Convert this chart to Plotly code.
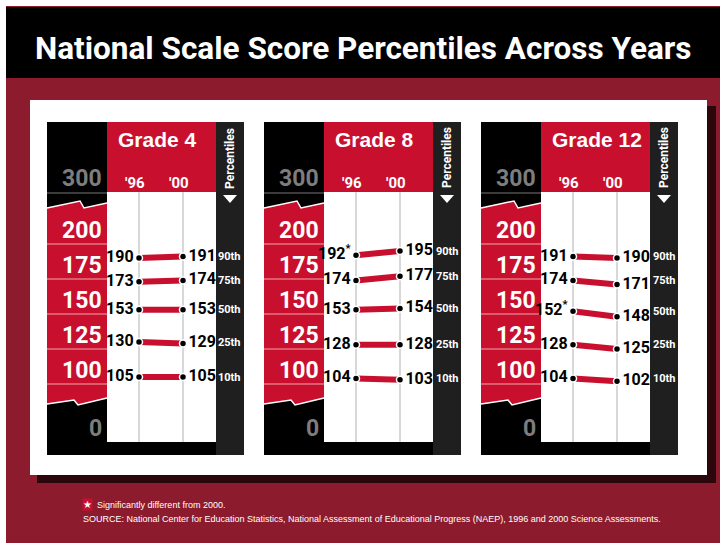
import plotly.graph_objects as go

grades = ["Grade 4", "Grade 8", "Grade 12"]
years = ["'96", "'00"]
percentiles = ["10th", "25th", "50th", "75th", "90th"]
scores_96 = [[105, 130, 153, 173, 190],
             [104, 128, 153, 174, 192],
             [104, 128, 152, 174, 191]]
scores_00 = [[105, 129, 153, 174, 191],
             [103, 128, 154, 177, 195],
             [102, 125, 148, 171, 190]]
signif_96 = [[0, 0, 0, 0, 0],
             [0, 0, 0, 0, 1],
             [0, 0, 1, 0, 0]]
scale_ticks = [100, 125, 150, 175, 200]
break_labels = ["300", "0"]

W, H = 720, 543
RED = "#c8102e"
COND = "Roboto, Liberation Sans, sans-serif"
PLAIN = "Liberation Sans, Arial, sans-serif"


def px(x):
    return x / W


def py(y):
    return 1 - y / H


def rect(x0, y0, x1, y1, color, layer="below"):
    return dict(type="rect", xref="paper", yref="paper", x0=px(x0), x1=px(x1),
                y0=py(y1), y1=py(y0), fillcolor=color, line=dict(width=0), layer=layer)


def path(points, fill=None, line_color=None, lw=0, close=True):
    d = "M " + " L ".join(f"{px(x):.5f},{py(y):.5f}" for x, y in points)
    if close:
        d += " Z"
    s = dict(type="path", xref="paper", yref="paper", path=d, layer="below",
             line=dict(width=lw, color=line_color or "rgba(0,0,0,0)"))
    if fill:
        s["fillcolor"] = fill
    return s


def note(text, x, y, size, color="white", family=COND, xref="paper", yref="paper",
         xanchor="center", yanchor="middle", weight="bold", **kw):
    return dict(text=text, x=x, y=y, xref=xref, yref=yref, xanchor=xanchor, yanchor=yanchor,
                showarrow=False, font=dict(family=family, size=size, color=color, weight=weight), **kw)


fig = go.Figure()
shapes = []
annotations = []

# page background
shapes.append(rect(6, 6, 720, 543, "#8c1c2d"))
shapes.append(rect(6, 7, 720, 78, "#000000"))
shapes.append(rect(37, 106, 716, 483, "#2b070c"))
shapes.append(rect(30, 100, 707, 475, "#ffffff"))

annotations.append(note("National Scale Score Percentiles Across Years", px(363), py(48), 31.5))

panel_left = [47, 264, 481]
PW = 197
TOP, HEAD_B, WHITE_B, BOT = 122, 192, 442, 455
X96, X00 = 92, 136   # pixel offsets of the year columns inside a panel

for k, L in enumerate(panel_left):
    n = "" if k == 0 else str(k + 1)
    xr = [-X96 / (X00 - X96), (PW - X96) / (X00 - X96)]
    fig.update_layout({
        f"xaxis{n}": dict(domain=[px(L), px(L + PW)], range=xr, visible=False, fixedrange=True,
                          anchor=f"y{n}"),
        f"yaxis{n}": dict(domain=[py(BOT), py(TOP)], range=[200 - (BOT - 244) / 1.4, 200 + (244 - TOP) / 1.4],
                          visible=False, fixedrange=True, anchor=f"x{n}"),
    })

    # panel blocks
    shapes.append(rect(L, TOP, L + PW, BOT, "#000000"))
    shapes.append(rect(L + 169, TOP, L + PW, BOT, "#1f1f1f"))
    shapes.append(rect(L + 60, TOP, L + 169, HEAD_B, RED))
    shapes.append(rect(L + 60, HEAD_B, L + 169, WHITE_B, "#ffffff"))
    shapes.append(dict(type="line", xref="paper", yref="paper", x0=px(L), x1=px(L + 60),
                       y0=py(193), y1=py(193), line=dict(color="#777777", width=1), layer="below"))

    # red scale band with break marks
    top_edge = [(L, 208), (L + 33, 201), (L + 37, 208), (L + 60, 203)]
    bot_edge = [(L + 60, 398), (L + 31, 405), (L + 27, 400), (L, 404)]
    shapes.append(path(top_edge + bot_edge, fill=RED))
    shapes.append(path(top_edge, line_color="white", lw=1.5, close=False))
    shapes.append(path(bot_edge, line_color="white", lw=1.5, close=False))
    for t in scale_ticks:
        shapes.append(dict(type="line", xref="paper", yref=f"y{n}", x0=px(L), x1=px(L + 60),
                           y0=t, y1=t, line=dict(color="rgba(255,215,215,0.75)", width=1), layer="below"))
        annotations.append(note(str(t), px(L + 57), t, 23, yref=f"y{n}", xanchor="right",
                                yanchor="bottom", yshift=-2))
    for lab, yy in zip(break_labels, [179, 428]):
        annotations.append(note(lab, px(L + 57), py(yy), 23, color="#7d7d7d", xanchor="right"))

    # year grid lines
    for i, yr in enumerate(years):
        shapes.append(dict(type="line", xref=f"x{n}", yref="paper", x0=i, x1=i,
                           y0=py(WHITE_B), y1=py(HEAD_B), line=dict(color="#b0b0b0", width=1), layer="below"))
        annotations.append(note(yr, i, py(183), 15, xref=f"x{n}", xshift=-4))

    annotations.append(note(grades[k], px(L + 69), py(139), 21, family=PLAIN, xanchor="left"))
    annotations.append(note("Percentiles", px(L + 183), py(158), 12, textangle=-90))
    shapes.append(path([(L + 176, 195), (L + 190, 195), (L + 183, 203)], fill="white"))

    s96, s00 = scores_96[k], scores_00[k]
    for a, b in zip(s96, s00):
        fig.add_trace(go.Scatter(x=[0, 1], y=[a, b], mode="lines", xaxis=f"x{n}", yaxis=f"y{n}",
                                 line=dict(color=RED, width=6), hoverinfo="skip", showlegend=False))
    t96 = [f"{v}<sup>*</sup>" if s else str(v) for v, s in zip(s96, signif_96[k])]
    fig.add_trace(go.Scatter(x=[0] * 5, y=s96, mode="markers+text", text=t96, textposition="middle left",
                             xaxis=f"x{n}", yaxis=f"y{n}", showlegend=False, hoverinfo="skip",
                             marker=dict(color="black", size=7, line=dict(color="white", width=1.5)),
                             textfont=dict(family=COND, size=16, color="black", weight="bold")))
    fig.add_trace(go.Scatter(x=[1] * 5, y=s00, mode="markers+text", text=[str(v) for v in s00],
                             textposition="middle right", xaxis=f"x{n}", yaxis=f"y{n}", showlegend=False,
                             hoverinfo="skip",
                             marker=dict(color="black", size=7, line=dict(color="white", width=1.5)),
                             textfont=dict(family=COND, size=16, color="black", weight="bold")))
    for p, a, b in zip(percentiles, s96, s00):
        annotations.append(note(p, px(L + 183), max(a, b), 11, yref=f"y{n}"))

# footnotes
annotations.append(note("★", px(87), py(504), 10, family=PLAIN, weight="normal",
                        bgcolor=RED, borderpad=0))
annotations.append(note("Significantly different from 2000.", px(95), py(505), 9, family=PLAIN,
                        xanchor="left", weight="normal"))
annotations.append(note("SOURCE: National Center for Education Statistics, National Assessment of "
                        "Educational Progress (NAEP), 1996 and 2000 Science Assessments.",
                        px(81), py(519), 9, family=PLAIN, xanchor="left", weight="normal"))

fig.update_layout(width=W, height=H, margin=dict(l=0, r=0, t=0, b=0), paper_bgcolor="white",
                  plot_bgcolor="rgba(0,0,0,0)", shapes=shapes, annotations=annotations, showlegend=False)

# the page body has a default 8px margin; drop it so the figure fills the window
fig.write_html("out.html", config={"displayModeBar": False},
               post_script="document.body.style.margin='0';")
